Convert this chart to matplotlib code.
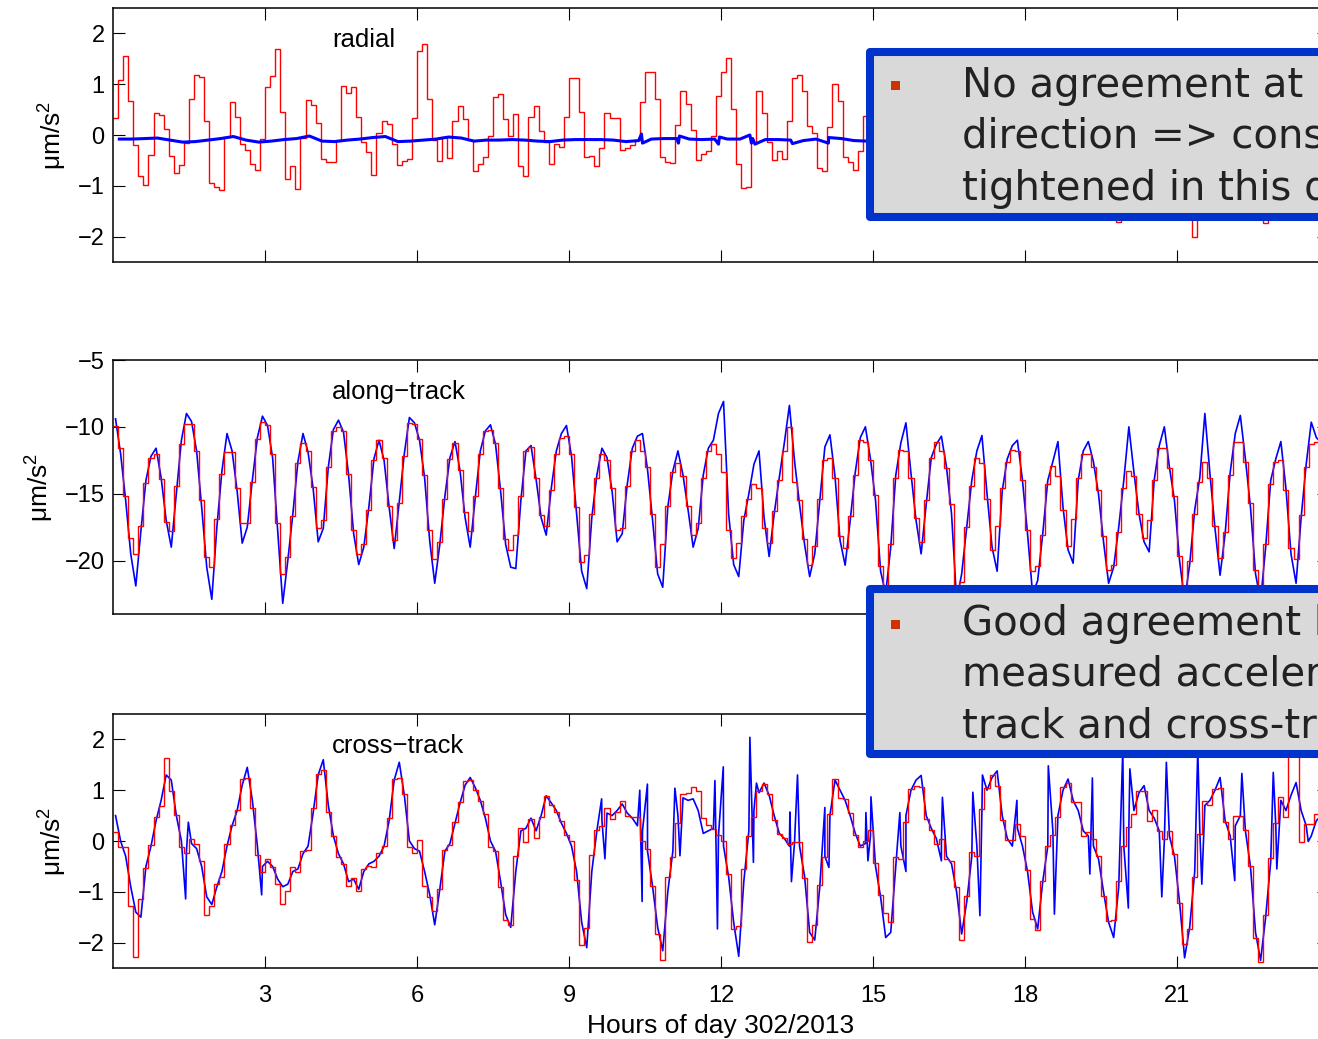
import numpy as np
import matplotlib
matplotlib.use("Agg")
import matplotlib.pyplot as plt
from matplotlib.patches import Rectangle

# modelled accelerations: piecewise constant, one value per 0.1 h
step_h = 0.1

radial_model = [
    0.33, 1.08, 1.55, 0.67, -0.2, -0.8, -0.99, -0.4, 0.43, 0.4,
    0.12, -0.41, -0.75, -0.59, -0.15, 0.71, 1.18, 1.15, 0.28, -0.95,
    -1.02, -1.08, -0.03, 0.64, 0.36, -0.18, -0.3, -0.58, -0.68, -0.07,
    0.94, 1.16, 1.7, 0.45, -0.87, -0.62, -1.06, -0.05, 0.68, 0.59,
    0.23, -0.48, -0.54, -0.54, -0.1, 0.96, 0.82, 0.94, 0.36, -0.13,
    -0.33, -0.79, 0.03, 0.28, 0.21, -0.18, -0.59, -0.51, -0.47, 0.34,
    1.65, 1.8, 0.7, -0.1, -0.51, -0.03, -0.45, 0.28, 0.58, 0.31,
    -0.1, -0.71, -0.58, -0.44, -0.02, 0.74, 0.81, 0.31, -0.01, 0.41,
    -0.61, -0.81, 0.35, 0.58, 0.07, -0.13, -0.57, -0.18, -0.24, 0.35,
    1.13, 1.13, 0.45, -0.43, -0.41, -0.61, -0.26, 0.44, 0.34, 0.33,
    -0.3, -0.25, -0.2, -0.1, 0.64, 1.25, 1.25, 0.7, -0.44, -0.54,
    -0.56, 0.2, 0.87, 0.62, 0.1, -0.5, -0.38, -0.31, -0.02, 0.77,
    1.25, 1.51, 0.52, -0.58, -1.05, -1.02, -0.13, 0.87, 0.43, -0.14,
    -0.49, -0.31, -0.47, 0.28, 1.13, 1.18, 0.87, 0.18, 0.03, -0.64,
    -0.7, 0.16, 1.0, 0.66, -0.44, -0.54, -0.68, -0.31, 0.38, -0.3,
    -0.6, -0.9, -0.5, 0.4, 1.1, 1.3, 0.6, -0.2, -0.5, -0.7,
    -0.4, 0.3, 0.5, 0.2, -0.4, -0.8, -1.0, -0.3, 0.8, 1.2,
    0.9, 0.1, -0.5, -0.6, -0.3, 0.4, 0.6, 0.1, -0.6, -0.9,
    -0.4, 0.7, 1.4, 1.0, 0.2, -0.4, -0.7, -0.5, 0.2, 0.5,
    0.3, -0.3, -0.8, -1.1, -0.2, 0.9, 1.3, 0.5, -1.71, -0.6,
    -0.3, 0.3, 0.6, 0.2, -0.5, -0.9, -0.6, 0.5, 1.1, 1.0,
    0.3, -0.4, -0.6, -2.0, -0.2, 0.5, 0.4, -0.3, -0.8, -1.0,
    -0.2, 0.9, 1.5, 0.8, 0.0, -0.5, -0.8, -1.73, 0.1, 0.6,
    0.3, -0.4, -0.9, -0.6, 0.5, 1.2, 1.0, 0.2, -0.4, -0.6,
]

# measured radial acceleration, read every 0.25 h
radial_meas = [
    -0.08, -0.08, -0.07, -0.06, -0.10, -0.14, -0.13, -0.10, -0.07, -0.03, -0.10, -0.14,
    -0.12, -0.09, -0.07, -0.02, -0.12, -0.13, -0.10, -0.08, -0.05, -0.03, -0.13, -0.12,
    -0.10, -0.08, -0.04, -0.06, -0.12, -0.10, -0.10, -0.09, -0.10, -0.12, -0.13, -0.10,
    -0.09, -0.09, -0.09, -0.10, -0.13, -0.11, -0.08, -0.07, -0.07, -0.08, -0.09, -0.08,
    -0.08, -0.08, -0.07, -0.09, -0.09, -0.10, -0.11, -0.08, -0.05, -0.07, -0.11, -0.12,
    -0.10, -0.09, -0.08, -0.10, -0.12, -0.11, -0.09, -0.08, -0.08, -0.10, -0.12, -0.11,
    -0.09, -0.08, -0.08, -0.10, -0.12, -0.11, -0.09, -0.08, -0.08, -0.10, -0.12, -0.11,
    -0.09, -0.08, -0.08, -0.10, -0.12, -0.11, -0.09, -0.08, -0.08, -0.10, -0.12, -0.11,
]
radial_spike_t = [10.43, 10.45, 11.16, 11.18, 11.95, 11.97, 12.57, 12.60, 12.67, 13.41, 14.12]
radial_spike_v = [0.02, -0.16, -0.16, -0.02, -0.18, -0.04, 0.0, -0.16, -0.18, -0.17, -0.16]

along_model = [
    -9.9, -11.6, -15.2, -18.3, -19.5, -17.4, -14.2, -12.3, -12.0, -13.9,
    -17.1, -17.8, -14.4, -11.3, -9.8, -9.8, -11.8, -15.5, -19.7, -20.5,
    -16.9, -13.5, -11.9, -11.9, -14.6, -17.2, -17.2, -14.1, -10.9, -9.65,
    -9.85, -12.0, -17.2, -21.0, -19.7, -16.7, -12.7, -11.2, -11.8, -14.5,
    -17.6, -17.0, -13.0, -10.3, -10.0, -10.3, -13.5, -17.7, -19.5, -18.8,
    -16.2, -12.5, -11.0, -12.3, -15.9, -18.5, -15.7, -12.2, -9.7, -9.8,
    -10.9, -13.6, -17.7, -19.9, -18.6, -15.4, -12.4, -11.2, -13.2, -16.4,
    -17.8, -15.2, -12.0, -10.3, -10.2, -11.2, -14.6, -18.4, -19.2, -18.1,
    -15.2, -11.8, -11.5, -13.8, -16.6, -17.4, -14.75, -12.0, -10.8, -10.65,
    -12.0, -16.0, -20.1, -19.55, -16.5, -13.8, -12.0, -12.5, -14.55, -17.7,
    -17.6, -14.45, -11.8, -11.0, -11.8, -13.0, -16.5, -20.5, -18.8, -15.9,
    -13.4, -12.7, -13.7, -15.9, -18.1, -17.2, -13.8, -11.8, -11.3, -12.0,
    -13.4, -17.7, -19.8, -18.7, -16.7, -15.4, -14.25, -14.6, -17.6, -18.7,
    -16.3, -14.0, -11.8, -10.0, -14.1, -15.5, -18.4, -20.3, -18.9, -15.4,
    -12.5, -12.3, -13.8, -18.2, -19.05, -16.7, -13.6, -11.0, -11.1, -12.5,
    -15.1, -20.4, -22.3, -18.8, -13.8, -11.7, -11.8, -13.8, -16.8, -18.6,
    -15.5, -12.3, -11.1, -11.8, -13.1, -15.8, -22.5, -21.6, -17.5, -14.4,
    -12.3, -12.7, -15.4, -19.2, -17.4, -14.6, -12.6, -11.7, -11.8, -14.0,
    -17.7, -20.8, -20.4, -18.1, -14.3, -12.9, -13.7, -16.2, -18.9, -16.9,
    -13.8, -12.0, -12.0, -13.0, -14.7, -18.2, -20.7, -20.3, -17.9, -14.6,
    -13.3, -13.7, -16.5, -18.3, -17.0, -14.0, -11.6, -11.6, -13.1, -15.2,
    -19.65, -22.4, -20.0, -16.5, -14.1, -12.6, -13.8, -17.4, -19.8, -17.9,
    -13.6, -11.1, -11.1, -12.6, -15.7, -20.7, -22.3, -18.8, -14.3, -12.6,
    -12.5, -14.75, -19.05, -19.9, -16.6, -13.0, -11.3, -11.1, -11.4, -13.5,
]

along_meas = [
    -9.4, -12.0, -15.5, -19.5, -21.9, -17.8, -14.0, -12.2, -11.6, -13.8,
    -17.0, -19.0, -15.0, -11.0, -9.0, -9.6, -11.8, -16.0, -20.5, -22.9,
    -17.5, -13.3, -10.5, -11.8, -14.8, -18.7, -17.5, -14.0, -10.8, -9.2,
    -9.9, -12.3, -17.8, -23.2, -20.0, -16.5, -12.6, -10.5, -11.9, -14.6,
    -18.6, -17.6, -13.0, -10.2, -9.5, -10.4, -13.6, -18.0, -20.3, -19.0,
    -16.0, -12.4, -11.0, -12.5, -16.0, -19.1, -15.6, -12.0, -9.3, -9.7,
    -11.0, -13.8, -18.5, -21.7, -18.8, -15.2, -12.3, -11.1, -13.3, -16.8,
    -19.0, -15.3, -11.8, -10.3, -9.85, -11.3, -14.8, -18.8, -20.5, -20.6,
    -15.5, -11.8, -11.4, -13.9, -16.8, -18.1, -14.6, -11.8, -10.5, -9.9,
    -12.2, -16.5, -20.8, -22.1, -16.8, -13.6, -11.6, -12.3, -14.8, -18.6,
    -18.0, -14.3, -11.6, -10.7, -10.5, -13.2, -17.0, -21.0, -22.0, -16.0,
    -13.3, -11.8, -13.6, -16.2, -19.0, -17.6, -13.6, -11.6, -11.0, -9.0,
    -8.1, -16.5, -20.3, -21.2, -17.0, -15.0, -12.8, -11.8, -16.8, -19.7,
    -16.5, -13.8, -11.2, -8.4, -12.5, -15.8, -18.8, -21.2, -19.5, -15.5,
    -11.5, -10.6, -13.7, -18.5, -20.35, -17.0, -13.4, -10.8, -10.0, -12.4,
    -15.5, -20.8, -22.5, -19.0, -13.6, -11.2, -9.7, -13.5, -17.0, -19.5,
    -15.8, -12.3, -11.3, -10.7, -13.0, -16.5, -23.0, -21.0, -17.5, -14.0,
    -11.8, -10.65, -15.0, -19.0, -20.8, -14.8, -12.4, -11.4, -11.0, -14.0,
    -18.0, -22.5, -21.5, -18.0, -14.0, -12.6, -11.1, -16.0, -19.2, -20.2,
    -14.0, -11.8, -11.1, -12.6, -15.0, -18.6, -21.7, -20.5, -17.5, -14.0,
    -10.0, -13.4, -16.5, -18.6, -19.35, -14.0, -11.4, -10.0, -13.0, -15.5,
    -20.0, -23.0, -20.3, -16.2, -13.8, -9.0, -13.5, -17.6, -21.1, -18.0,
    -13.4, -10.5, -9.15, -12.4, -16.0, -21.0, -23.0, -19.0, -14.0, -12.4,
    -11.1, -14.6, -19.5, -21.7, -16.8, -12.8, -9.65, -10.8, -11.2, -13.6,
]

cross_model = [
    0.18, -0.11, -0.11, -1.27, -2.29, -1.14, -0.54, -0.08, 0.47, 0.68,
    1.63, 0.99, 0.51, -0.12, -0.24, 0.04, -0.05, -0.39, -1.46, -1.27,
    -0.85, -0.71, -0.06, 0.31, 0.61, 1.22, 1.25, 0.65, -0.28, -0.62,
    -0.35, -0.52, -0.85, -1.24, -0.98, -0.52, -0.62, -0.19, -0.18, 0.64,
    1.32, 1.4, 0.58, 0.09, -0.32, -0.45, -0.88, -0.73, -0.98, -0.56,
    -0.5, -0.52, -0.24, -0.09, 0.45, 1.22, 1.24, 0.92, -0.12, -0.24,
    0.02, -0.88, -1.11, -1.38, -0.94, -0.17, -0.08, 0.37, 0.76, 1.19,
    1.2, 1.0, 0.79, 0.53, -0.11, -0.19, -0.91, -1.55, -1.65, -0.29,
    0.25, -0.01, 0.43, 0.05, 0.47, 0.89, 0.7, 0.58, 0.4, 0.12,
    0.0, -0.76, -2.04, -1.72, -0.27, 0.22, 0.3, 0.64, 0.43, 0.58,
    0.79, 0.5, 0.47, 0.48, 0.0, -0.16, -0.88, -1.84, -2.34, -0.71,
    -0.31, 0.35, 0.92, 0.94, 1.06, 0.98, 0.45, 0.32, 0.24, 0.12,
    0.0, -0.65, -1.74, -1.67, -0.55, 0.09, 0.47, 0.98, 1.13, 0.92,
    0.42, 0.14, 0.06, -0.06, -0.01, -0.01, -0.73, -1.99, -1.65, -0.87,
    -0.31, 0.53, 1.22, 0.84, 0.83, 0.56, 0.12, -0.12, 0.0, 0.22,
    -0.44, -1.06, -1.42, -1.6, -0.31, -0.35, 0.37, 1.02, 1.09, 1.06,
    0.43, 0.22, -0.06, 0.04, -0.35, -0.39, -0.91, -1.95, -1.09, -0.22,
    -0.29, 0.63, 1.04, 1.3, 1.09, 0.41, 0.02, 0.02, 0.33, 0.09,
    -0.58, -1.53, -1.75, -0.78, -0.1, 0.12, 0.47, 1.06, 1.15, 0.77,
    0.76, 0.09, 0.17, 0.04, -0.3, -1.09, -1.58, -1.55, -0.78, -0.1,
    0.28, 0.53, 0.99, 0.98, 0.39, 0.61, 0.2, 0.04, 0.2, -0.26,
    -1.22, -2.03, -1.74, -0.7, 0.14, 0.79, 0.71, 1.02, 1.04, 0.37,
    0.04, 0.49, 0.49, 0.22, -0.5, -1.91, -2.39, -1.45, -0.33, 0.35,
    0.86, 0.47, 2.2, 2.2, -0.01, 0.33, 0.33, 0.53, 0.6, 0.3,
]

cross_meas = [
    0.5, 0.0, -0.3, -0.9, -1.4, -1.5, -0.5, -0.1, 0.4, 0.8,
    1.3, 1.2, 0.5, 0.0, -0.2, -0.05, -0.15, -0.5, -1.1, -1.25,
    -0.9, -0.6, -0.1, 0.3, 0.6, 1.1, 1.45, 0.8, -0.1, -0.5,
    -0.4, -0.5, -0.75, -0.9, -0.85, -0.6, -0.55, -0.25, -0.1, 0.55,
    1.3, 1.6, 0.7, 0.1, -0.25, -0.45, -0.8, -0.75, -0.95, -0.6,
    -0.45, -0.4, -0.3, -0.1, 0.4, 1.2, 1.55, 0.9, 0.0, -0.15,
    -0.2, -0.6, -1.05, -1.65, -0.95, -0.2, -0.05, 0.35, 0.75, 1.1,
    1.25, 1.05, 0.8, 0.45, 0.0, -0.2, -0.8, -1.45, -1.7, -0.6,
    0.2, 0.25, 0.45, 0.2, 0.5, 0.89, 0.75, 0.6, 0.35, 0.15,
    -0.1, -0.6, -1.6, -2.1, -0.6, 0.2, 0.4, 0.55, 0.5, 0.6,
    0.73, 0.55, 0.45, 0.3, 0.2, -0.2, -0.9, -1.7, -2.16, -1.0,
    -0.2, 0.5, 0.85, 0.8, 0.83, 0.6, 0.15, 0.2, 0.25, 0.1,
    -0.1, -0.7, -1.6, -2.27, -0.8, 0.2, 0.6, 0.95, 1.14, 0.9,
    0.5, 0.15, 0.05, -0.1, -0.05, -0.1, -0.7, -1.8, -1.95, -0.9,
    -0.3, 0.5, 1.2, 1.0, 0.8, 0.5, 0.15, -0.1, -0.05, 0.1,
    -0.5, -1.1, -1.9, -1.8, -0.5, -0.1, 0.5, 1.0, 1.2, 1.29,
    0.5, 0.25, 0.05, -0.05, -0.3, -0.45, -1.0, -1.83, -1.2, -0.3,
    -0.1, 0.6, 1.0, 1.25, 1.38, 0.5, 0.05, -0.1, 0.25, -0.1,
    -0.6, -1.4, -1.73, -0.8, -0.1, 0.2, 0.5, 1.0, 1.22, 0.8,
    0.6, 0.2, 0.1, -0.1, -0.35, -1.0, -1.6, -1.9, -0.9, -0.1,
    0.3, 0.6, 0.95, 1.09, 0.6, 0.45, 0.2, 0.0, 0.1, -0.3,
    -1.2, -2.3, -1.7, -0.6, 0.2, 0.7, 0.8, 1.0, 1.25, 0.4,
    0.1, 0.3, 0.5, 0.2, -0.5, -1.8, -2.35, -1.5, -0.4, 0.3,
    0.8, 0.6, 0.9, 1.15, 0.6, 0.3, 0.1, 0.4, 0.5, 0.3,
]
cross_spike_t = [1.434, 1.487, 2.934, 9.644, 9.709, 10.397, 10.443, 10.548, 11.09, 11.19,
                 11.88, 11.93, 12.045, 12.57, 12.64, 12.70, 13.36, 13.39, 13.51, 14.05,
                 14.13, 14.86, 14.90, 14.96, 15.53, 15.65, 16.35, 16.37, 16.97, 17.11,
                 17.16, 17.84, 18.46, 18.58, 19.28, 19.33, 19.93, 20.04, 20.07, 20.70,
                 20.79, 21.41, 21.49, 22.14, 22.28, 22.90, 22.97, 23.59]
cross_spike_v = [-1.14, 0.37, -1.06, 0.83, -0.35, 1.0, -1.19, 1.12, 1.04, -0.29,
                 1.19, -1.73, 1.46, 2.04, -0.42, 1.14, 0.57, -0.8, 1.3, 0.66,
                 -0.52, 0.56, -0.39, 0.87, 0.56, -0.6, -0.39, 0.86, 0.96, -1.47,
                 1.3, 0.8, 1.48, -1.44, -0.65, 1.24, 1.8, -1.32, 1.42, -1.1,
                 1.55, 1.8, -0.85, -0.78, 1.33, 1.35, -0.55, -0.01]

xticks = [3, 6, 9, 12, 15, 18, 21]
panels = [
    ("radial", (8, 262), (-2.5, 2.5), [-2, -1, 0, 1, 2]),
    ("along\u2212track", (360, 614), (-24, -5), [-20, -15, -10, -5]),
    ("cross\u2212track", (714, 968), (-2.5, 2.5), [-2, -1, 0, 1, 2]),
]

W, H = 1318, 1039
plt.rcParams['font.family'] = ['Liberation Sans', 'DejaVu Sans']
plt.rcParams['mathtext.default'] = 'regular'


def merged(t, v, ts, vs):
    tt = np.concatenate([t, ts])
    vv = np.concatenate([v, vs])
    o = np.argsort(tt)
    return tt[o], vv[o]


def main():
    fig = plt.figure(figsize=(W / 100, H / 100), dpi=100)
    edges = np.arange(len(along_model) + 1) * step_h
    centres = edges[:-1] + step_h / 2
    t_rad = (np.arange(len(radial_meas)) + 0.5) * 0.25

    models = [radial_model, along_model, cross_model]
    meas = [
        merged(t_rad, np.array(radial_meas), np.array(radial_spike_t), np.array(radial_spike_v)),
        (centres, np.array(along_meas)),
        merged(centres, np.array(cross_meas), np.array(cross_spike_t), np.array(cross_spike_v)),
    ]

    axes = []
    for k, (title, (top, bot), ylim, yt) in enumerate(panels):
        ax = fig.add_axes([113 / W, 1 - bot / H, (1329 - 113) / W, (bot - top) / H])
        tm, vm = meas[k]
        if k == 0:
            ax.stairs(models[k], edges, baseline=None, color='#ff0000', lw=1.0, zorder=2)
            ax.plot(tm, vm, color='#0000ff', lw=2.2, zorder=3)
        else:
            ax.plot(tm, vm, color='#0000ff', lw=1.2, zorder=2)
            ax.stairs(models[k], edges, baseline=None, color='#ff0000', lw=1.0, zorder=3)
        ax.set_xlim(0, 24)
        ax.set_ylim(*ylim)
        ax.set_yticks(yt)
        ax.set_xticks(xticks)
        ax.tick_params(direction='in', length=8.6, width=0.8, top=True, right=True,
                       labelsize=17, pad=6)
        ax.tick_params(axis='x', pad=12)
        if k < 2:
            ax.set_xticklabels([])
        for s in ax.spines.values():
            s.set_linewidth(1.1)
        ax.set_ylabel("\u03bcm/s$^2$", fontsize=19, labelpad=6)
        ax.text(0.180, 0.875, title, transform=ax.transAxes, fontsize=18.5, va='center')
        axes.append(ax)

    axes[2].set_xlabel("Hours of day 302/2013", fontsize=19, labelpad=5)

    # call-out boxes on top of the panels
    boxes = [
        (48, 221, ["No agreement at all in radial", "direction => constraints",
                   "tightened in this direction"], [97, 148, 200], 85.5),
        (585, 758, ["Good agreement between", "measured accelerations in along-",
                    "track and cross-track direction"], [635, 686, 737], 624),
    ]
    for top, bot, lines, bases, by in boxes:
        fig.add_artist(Rectangle((870 / W, 1 - (bot - 4) / H), 600 / W, (bot - top - 8) / H,
                                 transform=fig.transFigure, facecolor='#d9d9d9',
                                 edgecolor='#0033cc', lw=5.8, joinstyle='round', zorder=5))
        fig.add_artist(Rectangle((891 / W, 1 - (by + 4.5) / H), 9 / W, 9 / H,
                                 transform=fig.transFigure, facecolor='#cc3300',
                                 edgecolor='none', zorder=6))
        for txt, b in zip(lines, bases):
            fig.text(962 / W, 1 - b / H, txt, fontsize=29, family='DejaVu Sans',
                     color='#222222', va='baseline', ha='left', zorder=7)

    fig.savefig("out.png", dpi=100)


if __name__ == "__main__":
    main()
